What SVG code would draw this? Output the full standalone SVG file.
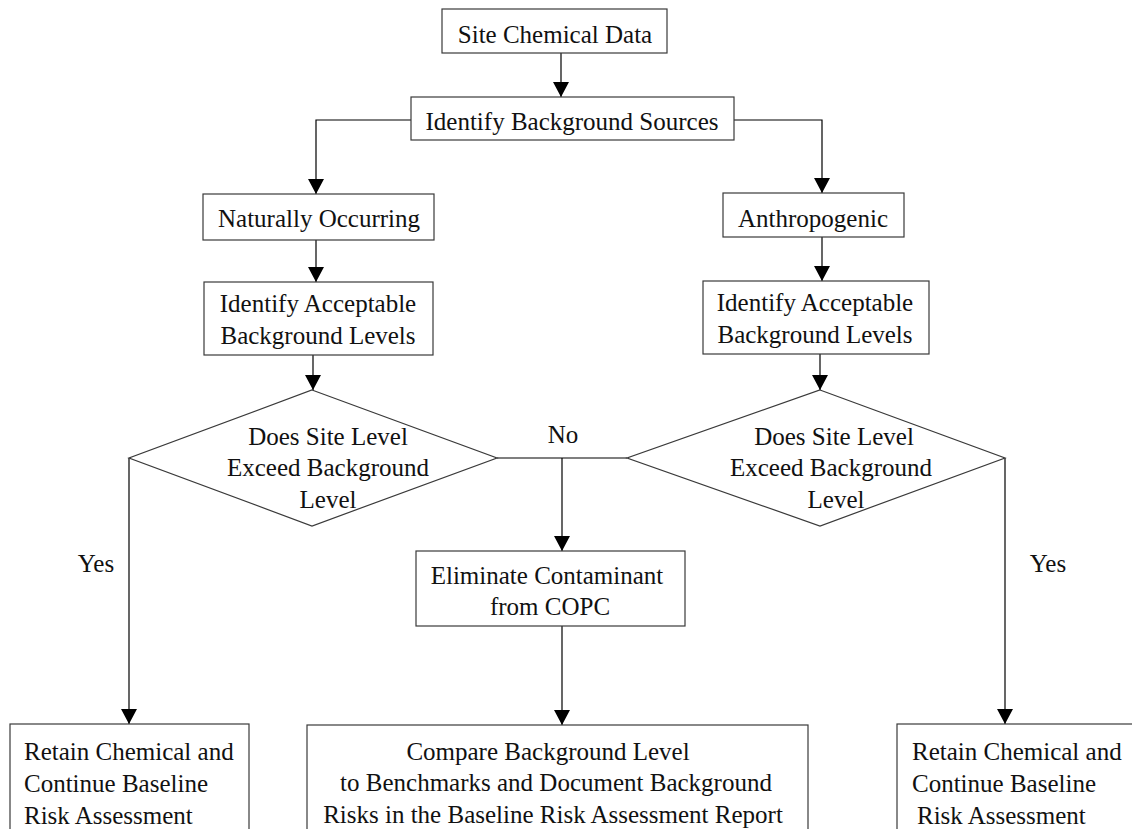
<svg xmlns="http://www.w3.org/2000/svg" width="1132" height="829" viewBox="0 0 1132 829">
  <style>
    .box { fill: #ffffff; stroke: #3a3a3a; stroke-width: 1.2; }
    .dia { fill: #ffffff; stroke: #3a3a3a; stroke-width: 1.2; }
    .wire { fill: none; stroke: #000000; stroke-width: 1.2; }
    .arrow { fill: none; stroke: #000000; stroke-width: 1.2; marker-end: url(#head); }
    text { font-family: "Liberation Serif", "Times New Roman", serif; font-size: 25px; fill: #111111; }
    .c { text-anchor: middle; }
  </style>
  <defs>
    <marker id="head" markerUnits="userSpaceOnUse" markerWidth="16" markerHeight="16" refX="15" refY="8" orient="auto">
      <path d="M0,0 L15,8 L0,16 Z" fill="#000000"/>
    </marker>
  </defs>
  <rect width="1132" height="829" fill="#ffffff"/>

  <!-- connectors -->
  <g id="connectors">
    <line class="arrow" x1="561" y1="53" x2="561" y2="97"/>
    <polyline class="arrow" points="411,120 316,120 316,194"/>
    <polyline class="arrow" points="734,120 822,120 822,193"/>
    <line class="arrow" x1="316" y1="240" x2="316" y2="282"/>
    <line class="arrow" x1="822" y1="237" x2="822" y2="281"/>
    <line class="arrow" x1="313" y1="355" x2="313" y2="390"/>
    <line class="arrow" x1="820" y1="354" x2="820" y2="390"/>
    <line class="wire" x1="497" y1="458" x2="627" y2="458"/>
    <line class="arrow" x1="562" y1="458" x2="562" y2="551"/>
    <line class="arrow" x1="562" y1="626" x2="562" y2="725"/>
    <line class="arrow" x1="129" y1="458" x2="129" y2="724"/>
    <line class="arrow" x1="1005" y1="458" x2="1005" y2="724"/>
    <text x="563" y="443" class="c">No</text>
    <text x="96" y="572" class="c">Yes</text>
    <text x="1048" y="572" class="c">Yes</text>
  </g>

  <g id="site-data">
    <rect class="box" x="442" y="9" width="225" height="44"/>
    <text x="555" y="43" class="c">Site Chemical Data</text>
  </g>

  <g id="background-sources">
    <rect class="box" x="411" y="97" width="323" height="43"/>
    <text x="572" y="130" class="c">Identify Background Sources</text>
  </g>

  <g id="naturally-occurring">
    <rect class="box" x="203" y="194" width="231" height="46"/>
    <text x="319" y="227" class="c">Naturally Occurring</text>
  </g>

  <g id="anthropogenic">
    <rect class="box" x="723" y="193" width="181" height="44"/>
    <text x="813" y="227" class="c">Anthropogenic</text>
  </g>

  <g id="levels-natural">
    <rect class="box" x="204" y="282" width="229" height="73"/>
    <text x="318" y="312" class="c">Identify Acceptable</text>
    <text x="318" y="344" class="c">Background Levels</text>
  </g>

  <g id="levels-anthropogenic">
    <rect class="box" x="703" y="281" width="226" height="73"/>
    <text x="815" y="311" class="c">Identify Acceptable</text>
    <text x="815" y="343" class="c">Background Levels</text>
  </g>

  <g id="decision-natural">
    <polygon class="dia" points="312,390 497,458 312,526 129,458"/>
    <text x="328" y="445" class="c">Does Site Level</text>
    <text x="328" y="476" class="c">Exceed Background</text>
    <text x="328" y="508" class="c">Level</text>
  </g>

  <g id="decision-anthropogenic">
    <polygon class="dia" points="820,390 1005,458 820,526 627,458"/>
    <text x="834" y="445" class="c">Does Site Level</text>
    <text x="831" y="476" class="c">Exceed Background</text>
    <text x="836" y="508" class="c">Level</text>
  </g>

  <g id="eliminate">
    <rect class="box" x="416" y="551" width="269" height="75"/>
    <text x="547" y="584" class="c">Eliminate Contaminant</text>
    <text x="550" y="615" class="c">from COPC</text>
  </g>

  <g id="retain-left">
    <rect class="box" x="10" y="724" width="239" height="120"/>
    <text x="24" y="760">Retain Chemical and</text>
    <text x="24" y="792">Continue Baseline</text>
    <text x="24" y="824">Risk Assessment</text>
  </g>

  <g id="compare">
    <rect class="box" x="307" y="725" width="501" height="120"/>
    <text x="548" y="760" class="c">Compare Background Level</text>
    <text x="556" y="791" class="c">to Benchmarks and Document Background</text>
    <text x="553" y="823" class="c">Risks in the Baseline Risk Assessment Report</text>
  </g>

  <g id="retain-right">
    <rect class="box" x="897" y="724" width="250" height="120"/>
    <text x="912" y="760">Retain Chemical and</text>
    <text x="912" y="792">Continue Baseline</text>
    <text x="917" y="824">Risk Assessment</text>
  </g>
</svg>
